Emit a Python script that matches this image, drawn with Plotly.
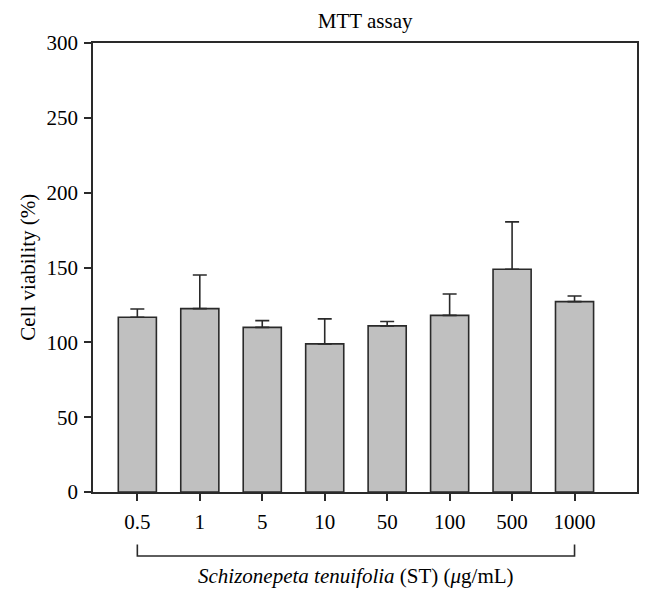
import plotly.graph_objects as go

doses = ["0.5", "1", "5", "10", "50", "100", "500", "1000"]
viability = [116.8, 122.5, 110.0, 99.0, 111.0, 118.0, 148.8, 127.2]
sd = [5.5, 22.5, 4.5, 16.7, 2.9, 14.3, 31.7, 3.8]

font = "Liberation Serif"
ink = "#2a2a2a"

fig = go.Figure()
fig.add_trace(go.Bar(
    x=doses, y=viability, width=0.61,
    marker=dict(color="#c0c0c0", line=dict(color=ink, width=1.6)),
    error_y=dict(type="data", array=sd, arrayminus=[0] * len(sd), symmetric=False,
                 color=ink, thickness=1.6, width=7),
))

# bracket under the dose labels
fig.add_shape(type="path", xref="x", yref="paper",
              path="M 0,-0.1167 L 0,-0.1424 L 7,-0.1424 L 7,-0.1167",
              line=dict(color=ink, width=1.6))

fig.add_annotation(x=3.5, xref="x", y=-0.188, yref="paper", showarrow=False,
                   text="<i>Schizonepeta tenuifolia</i> (ST) (<i>μ</i>g/mL)",
                   font=dict(family=font, size=21, color="black"), yanchor="middle")
fig.add_annotation(x=-0.121, xref="paper", y=0.5, yref="paper", showarrow=False,
                   xanchor="center", yanchor="middle",
                   text="Cell viability (%)", textangle=-90,
                   font=dict(family=font, size=21, color="black"))

fig.update_layout(
    width=652, height=595, autosize=False,
    margin=dict(l=93, r=15, t=42.5, b=102.5),
    plot_bgcolor="white", paper_bgcolor="white",
    showlegend=False,
    title=dict(text="MTT assay", x=0.56, xanchor="center", y=0.966, yanchor="middle",
               font=dict(family=font, size=21, color="black")),
    font=dict(family=font, size=21, color="black"),
)
fig.update_xaxes(range=[-0.71, 8.0], showline=True, linecolor=ink, linewidth=1.6, mirror=True,
                 ticks="outside", ticklen=7, tickwidth=1.6, tickcolor=ink,
                 ticklabelstandoff=3, showgrid=False)
fig.update_yaxes(range=[0, 300], dtick=50, showline=True, linecolor=ink, linewidth=1.6, mirror=True,
                 ticks="outside", ticklen=7, tickwidth=1.6, tickcolor=ink,
                 ticklabelstandoff=2, showgrid=False, zeroline=False)

fig.write_html("out.html", config={"responsive": False, "displayModeBar": False},
               post_script="document.body.style.margin='0';document.body.style.overflow='hidden';")
